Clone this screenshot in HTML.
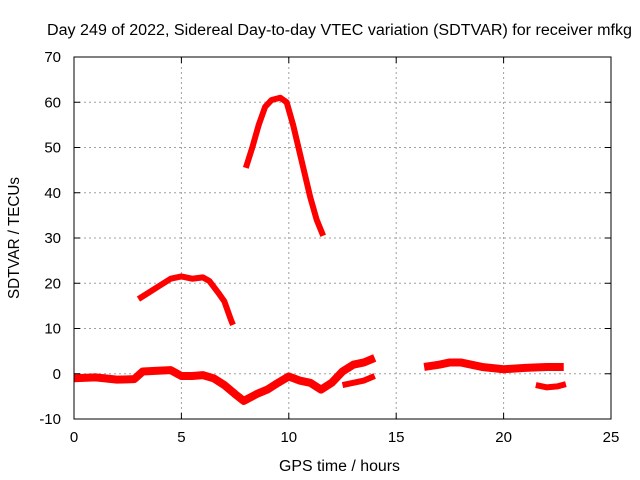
<!DOCTYPE html>
<html><head><meta charset="utf-8"><style>
body{margin:0;background:#fff}
svg{display:block;font-family:"Liberation Sans",sans-serif}
</style></head><body>
<svg id="c" width="640" height="480">
<text x="339.5" y="35" text-anchor="middle" font-size="15.5" textLength="585" lengthAdjust="spacingAndGlyphs">Day 249 of 2022, Sidereal Day-to-day VTEC variation (SDTVAR) for receiver mfkg</text>
<text x="339.5" y="471" text-anchor="middle" font-size="15.5" textLength="121" lengthAdjust="spacingAndGlyphs">GPS time / hours</text>
<text transform="translate(19,238) rotate(-90)" text-anchor="middle" font-size="15.5" textLength="122" lengthAdjust="spacingAndGlyphs">SDTVAR / TECUs</text>
<g id="grid"></g><g id="marks"></g><g id="axes"></g>
</svg>
<script>
const xTicks=[0,5,10,15,20,25];
const yTicks=[-10,0,10,20,30,40,50,60,70];
const seriesA=[[8.0,45.5],[8.3,50],[8.6,55],[8.9,59],[9.2,60.5],[9.6,61],[9.9,60],[10.2,55],[10.6,47],[11.0,39],[11.3,34],[11.6,30.5]];
const seriesB=[[3.0,16.5],[3.5,18],[4.0,19.5],[4.5,21],[5.0,21.5],[5.5,21],[6.0,21.3],[6.3,20.5],[6.7,18],[7.0,16],[7.3,12],[7.4,10.8]];
const seriesC=[[0,-1],[1,-0.8],[2,-1.3],[2.8,-1.2],[3.2,0.5],[4,0.7],[4.5,0.8],[5,-0.5],[5.5,-0.5],[6,-0.3],[6.5,-1],[7,-2.5],[7.5,-4.5],[7.9,-6],[8.5,-4.5],[9,-3.5],[9.5,-2],[10,-0.6],[10.5,-1.5],[11,-2],[11.5,-3.5],[12,-2],[12.5,0.5],[13,2],[13.5,2.5],[14,3.5]];
const seriesD=[[12.5,-2.5],[13,-2],[13.5,-1.5],[14,-0.5]];
const seriesE=[[16.3,1.5],[17,2],[17.5,2.5],[18,2.5],[18.5,2],[19,1.5],[20,1],[21,1.3],[22,1.5],[22.8,1.5]];
const seriesF=[[21.5,-2.5],[22,-3],[22.5,-2.8],[22.9,-2.3]];
const X0=74,X1=611,Y0=419,Y1=57;
const sx=v=>X0+(v-0)/25*(X1-X0);
const sy=v=>Y0-(v+10)/80*(Y0-Y1);
const NS='http://www.w3.org/2000/svg';
function mk(t,p,a){const e=document.createElementNS(NS,t);for(const k in a)e.setAttribute(k,a[k]);p.appendChild(e);return e;}
const grid=document.getElementById('grid'),axes=document.getElementById('axes'),marks=document.getElementById('marks');
xTicks.forEach(t=>{
 const x=sx(t);
 if(t>0&&t<25){const g=mk('line',grid,{x1:x,x2:x,y1:Y1,y2:Y0,stroke:'#a0a0a0','stroke-dasharray':'2,3'});
 
 }
 mk('line',axes,{x1:x,x2:x,y1:Y0,y2:Y0-6,stroke:'#000'});
 mk('line',axes,{x1:x,x2:x,y1:Y1,y2:Y1+6,stroke:'#000'});
 const l=mk('text',axes,{x:x,y:Y0+23,'text-anchor':'middle','font-size':15});l.textContent=t;
 
 
});
yTicks.forEach(t=>{
 const y=sy(t);
 if(t>-10&&t<70){const g=mk('line',grid,{x1:X0,x2:X1,y1:y,y2:y,stroke:'#a0a0a0','stroke-dasharray':'2,3'});
 
 }
 mk('line',axes,{x1:X0,x2:X0+6,y1:y,y2:y,stroke:'#000'});
 mk('line',axes,{x1:X1,x2:X1-6,y1:y,y2:y,stroke:'#000'});
 const l=mk('text',axes,{x:X0-13,y:y+5,'text-anchor':'end','font-size':15});l.textContent=t;
 
 
});
const fr=mk('rect',axes,{x:X0,y:Y1,width:X1-X0,height:Y0-Y1,fill:'none',stroke:'#000'});


[[seriesA,6],[seriesB,6],[seriesC,8],[seriesD,6],[seriesE,8],[seriesF,6]].forEach(([s,w],i)=>{
 const p=mk('polyline',marks,{points:s.map(d=>sx(d[0])+','+sy(d[1])).join(' '),fill:'none',stroke:'#ff0000','stroke-width':w,'stroke-linejoin':'round'});
 
 
});
</script>
</body></html>
